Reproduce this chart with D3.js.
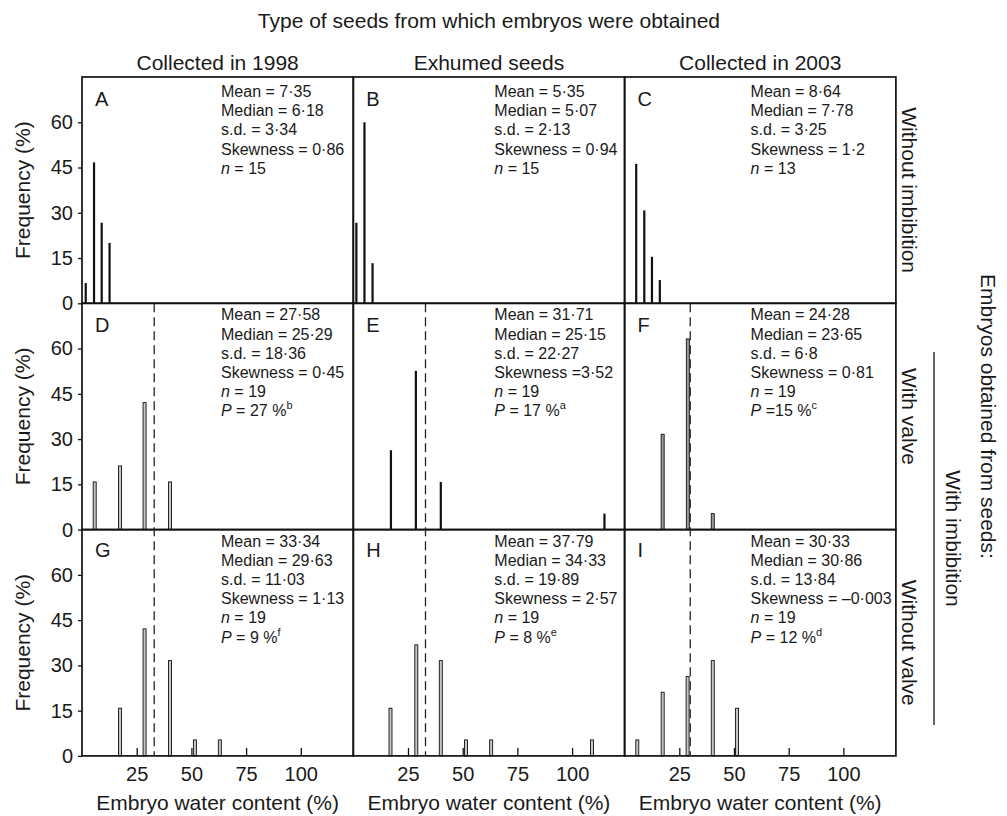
<!DOCTYPE html>
<html>
<head>
<meta charset="utf-8">
<script src="https://cdn.jsdelivr.net/npm/d3@7"></script>
<style>
  body { margin: 0; background: #fff; }
  svg text { font-family: "Liberation Sans", Arial, Helvetica, sans-serif; fill: #1a1a1a; }
</style>
</head>
<body>
<div id="chart"></div>
<script>
// headings
var seedTypes = ["Collected in 1998", "Exhumed seeds", "Collected in 2003"];
var treatments = ["Without imbibition", "With valve", "Without valve"];
var panelLetters = ["A", "B", "C", "D", "E", "F", "G", "H", "I"];

var yTicks = [0, 15, 30, 45, 60];
var xTicks = [25, 50, 75, 100];

// embryo water content (%) of each bar and its frequency (%)
var waterA = [1.7, 5.5, 9.0, 12.6];              var freqA = [6.7, 46.7, 26.7, 20.0];
var waterB = [1.4, 5.1, 8.8];                    var freqB = [26.7, 60.0, 13.3];
var waterC = [5.3, 9.0, 12.5, 16.1];             var freqC = [46.2, 30.8, 15.4, 7.7];
var waterD = [5.8, 17.4, 28.6, 40.2];            var freqD = [15.8, 21.1, 42.1, 15.8];
var waterE = [17.2, 28.6, 40.0, 114.8];          var freqE = [26.3, 52.6, 15.8, 5.3];
var waterF = [17.4, 28.9, 40.3];                 var freqF = [31.6, 63.2, 5.3];
var waterG = [17.4, 28.6, 40.2, 51.6, 63.0];     var freqG = [15.8, 42.1, 31.6, 5.3, 5.3];
var waterH = [17.0, 28.8, 40.0, 51.5, 63.0, 109.1]; var freqH = [15.8, 36.8, 31.6, 5.3, 5.3, 5.3];
var waterI = [5.8, 17.4, 28.8, 40.3, 51.4];      var freqI = [5.3, 21.1, 26.3, 31.6, 15.8];

// critical water content (dashed line) for imbibed seeds, per column
var criticalWater = [33, 33, 30];

// statistics printed in each panel
var means   = ["7·35", "5·35", "8·64", "27·58", "31·71", "24·28", "33·34", "37·79", "30·33"];
var medians = ["6·18", "5·07", "7·78", "25·29", "25·15", "23·65", "29·63", "34·33", "30·86"];
var sds     = ["3·34", "2·13", "3·25", "18·36", "22·27", "6·8", "11·03", "19·89", "13·84"];
var skews   = ["= 0·86", "= 0·94", "= 1·2", "= 0·45", "=3·52", "= 0·81", "= 1·13", "= 2·57", "= –0·003"];
var counts  = [15, 15, 13, 19, 19, 19, 19, 19, 19];
var pValues = [null, null, null, "= 27 %", "= 17 %", "=15 %", "= 9 %", "= 8 %", "= 12 %"];
var pNotes  = [null, null, null, "b", "a", "c", "f", "e", "d"];

var waters = [waterA, waterB, waterC, waterD, waterE, waterF, waterG, waterH, waterI];
var freqs  = [freqA, freqB, freqC, freqD, freqE, freqF, freqG, freqH, freqI];

var W = 1007, H = 816,
    gridLeft = 82, gridTop = 77,
    colW = 271.3, rowH = 226.3,
    statOffset = [139, 141, 126],
    letterBase = [29, 29, 27],
    statBase = [20, 17, 17];

var svg = d3.select("#chart").append("svg")
            .attr("width", W)
            .attr("height", H);

waters.forEach(function(water, i){
  var col = i % 3,
      row = Math.floor(i / 3),
      x0 = gridLeft + col * colW,
      y0 = gridTop + row * rowH,
      freq = freqs[i];

  var x = d3.scaleLinear().domain([0, 124]).range([x0, x0 + colW]);
  var y = d3.scaleLinear().domain([0, 75]).range([y0 + rowH, y0]);

  var g = svg.append("g").attr("class", "panel");

  // bars: plain lines in the top row and in E, outlined bars elsewhere
  var solid = (row === 0 || i === 4);
  var bw = solid ? 2.2 : 3;
  g.selectAll(".bar")
    .data(water)
    .enter().append("rect")
    .attr("class", "bar")
    .attr("x", function(d){ return x(d) - bw / 2; })
    .attr("y", function(d, j){ return y(freq[j]); })
    .attr("width", bw)
    .attr("height", function(d, j){ return y(0) - y(freq[j]); })
    .attr("fill", solid ? "#111" : (i === 5 ? "#9a9a9a" : "#c6c6c6"))
    .attr("stroke", solid ? "none" : "#111")
    .attr("stroke-width", 0.9);

  // y axis on the left column
  if (col === 0) {
    var ya = g.append("g")
      .attr("transform", "translate(" + x0 + ",0)")
      .call(d3.axisLeft(y).tickValues(yTicks).tickSize(4).tickPadding(5));
    ya.select(".domain").remove();
    ya.selectAll("line").attr("stroke", "#111").attr("stroke-width", 1.3);
    ya.selectAll("text").attr("font-size", 20).attr("font-family", null).attr("fill", "#1a1a1a");

    g.append("text")
      .attr("transform", "translate(23," + (y0 + rowH / 2) + ") rotate(-90)")
      .attr("text-anchor", "middle")
      .attr("dy", "0.32em")
      .attr("font-size", 21)
      .text("Frequency (%)");
  }

  // x axis on the bottom row, ticks pointing inwards
  if (row === 2) {
    var xa = g.append("g")
      .attr("transform", "translate(0," + (y0 + rowH) + ")")
      .call(d3.axisBottom(x).tickValues(xTicks).tickSizeInner(-8).tickSizeOuter(0).tickPadding(11));
    xa.select(".domain").remove();
    xa.selectAll("line").attr("stroke", "#111").attr("stroke-width", 1.3);
    xa.selectAll("text").attr("font-size", 20).attr("font-family", null).attr("fill", "#1a1a1a");

    g.append("text")
      .attr("x", x0 + colW / 2)
      .attr("y", 810)
      .attr("text-anchor", "middle")
      .attr("font-size", 21)
      .text("Embryo water content (%)");
  }

  // panel frame
  g.append("rect")
    .attr("x", x0).attr("y", y0)
    .attr("width", colW).attr("height", rowH)
    .attr("fill", "none")
    .attr("stroke", "#111")
    .attr("stroke-width", 1.7);

  // letter
  g.append("text")
    .attr("x", x0 + 13)
    .attr("y", y0 + letterBase[row])
    .attr("font-size", 20)
    .text(panelLetters[i]);

  // statistics
  var lines = [
    [{t: "Mean = " + means[i]}],
    [{t: "Median = " + medians[i]}],
    [{t: "s.d. = " + sds[i]}],
    [{t: "Skewness " + skews[i]}],
    [{t: "n", it: true}, {t: " = " + counts[i]}]
  ];
  if (pValues[i]) lines.push([{t: "P", it: true}, {t: " " + pValues[i]}, {t: pNotes[i], sup: true}]);

  var st = g.append("text")
    .attr("font-size", 16);
  lines.forEach(function(parts, k){
    var ly = y0 + statBase[row] + k * 19.2;
    parts.forEach(function(p, m){
      var ts = st.append("tspan").text(p.t);
      if (m === 0) ts.attr("x", x0 + statOffset[col]).attr("y", ly);
      if (p.it) ts.attr("font-style", "italic");
      if (p.sup) ts.attr("dy", -7).attr("font-size", 11);
    });
  });
});

// dashed critical lines through the imbibed rows
criticalWater.forEach(function(v, col){
  var x0 = gridLeft + col * colW;
  var x = d3.scaleLinear().domain([0, 124]).range([x0, x0 + colW]);
  svg.append("line")
    .attr("x1", x(v)).attr("x2", x(v))
    .attr("y1", gridTop + rowH).attr("y2", gridTop + 3 * rowH)
    .attr("stroke", "#222")
    .attr("stroke-width", 1.3)
    .attr("stroke-dasharray", "9,5");
});

// column headings
svg.append("text")
  .attr("x", gridLeft + 1.5 * colW)
  .attr("y", 28)
  .attr("text-anchor", "middle")
  .attr("font-size", 21)
  .text("Type of seeds from which embryos were obtained");

seedTypes.forEach(function(s, col){
  svg.append("text")
    .attr("x", gridLeft + col * colW + colW / 2)
    .attr("y", 70)
    .attr("text-anchor", "middle")
    .attr("font-size", 21)
    .text(s);
});

// row labels on the right
treatments.forEach(function(s, row){
  svg.append("text")
    .attr("transform", "translate(909," + (gridTop + row * rowH + rowH / 2) + ") rotate(90)")
    .attr("text-anchor", "middle")
    .attr("dy", "0.32em")
    .attr("font-size", 21)
    .text(s);
});

svg.append("line")
  .attr("x1", 934).attr("x2", 934)
  .attr("y1", 352).attr("y2", 725)
  .attr("stroke", "#111")
  .attr("stroke-width", 1.3);

svg.append("text")
  .attr("transform", "translate(953," + ((352 + 725) / 2) + ") rotate(90)")
  .attr("text-anchor", "middle")
  .attr("dy", "0.32em")
  .attr("font-size", 21)
  .text("With imbibition");

svg.append("text")
  .attr("transform", "translate(988," + (gridTop + 1.5 * rowH) + ") rotate(90)")
  .attr("text-anchor", "middle")
  .attr("dy", "0.32em")
  .attr("font-size", 21)
  .text("Embryos obtained from seeds:");
</script>
</body>
</html>
